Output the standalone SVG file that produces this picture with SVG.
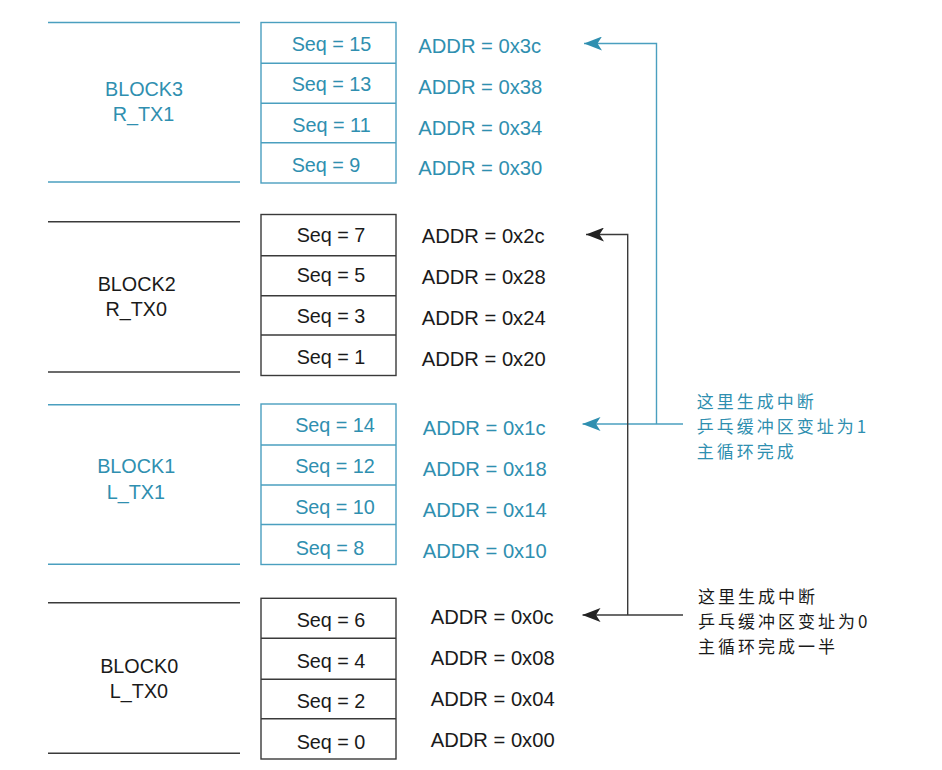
<svg xmlns="http://www.w3.org/2000/svg" width="942" height="770" viewBox="0 0 942 770">
<defs>
<style>
.t{font-family:"Liberation Sans",Arial,sans-serif;font-size:19.8px}
.a{font-size:20.2px}
.c{font-family:"Noto Sans CJK SC","Noto Sans",sans-serif;font-size:17px;letter-spacing:3px}
.teal{fill:#2f8fb0}
.blk{fill:#1a1a1a}
.m{text-anchor:middle}
.lt{stroke:#4a9fbf;stroke-width:1.4;fill:none}
.lb{stroke:#3a3a3a;stroke-width:1.4;fill:none}
</style>
<marker id="at" viewBox="0 0 18 14" refX="18" refY="7" markerWidth="18" markerHeight="14" markerUnits="userSpaceOnUse" orient="auto">
<path d="M0,0 L18,7 L0,14 L4.5,7 Z" fill="#2f8fb0"/>
</marker>
<marker id="ab" viewBox="0 0 18 14" refX="18" refY="7" markerWidth="18" markerHeight="14" markerUnits="userSpaceOnUse" orient="auto">
<path d="M0,0 L18,7 L0,14 L4.5,7 Z" fill="#222"/>
</marker>
</defs>
<rect width="942" height="770" fill="#fff"/>

<g id="block3">
<line class="lt" x1="48" y1="22.5" x2="240" y2="22.5"/>
<line class="lt" x1="48" y1="182" x2="240" y2="182"/>
<text class="t teal m" x="144" y="96">BLOCK3</text>
<text class="t teal m" x="143.5" y="121">R_TX1</text>
<rect class="lt" x="261" y="22.5" width="135" height="160.5"/>
<line class="lt" x1="261" y1="63.3" x2="396" y2="63.3"/>
<line class="lt" x1="261" y1="103.3" x2="396" y2="103.3"/>
<line class="lt" x1="261" y1="142.7" x2="396" y2="142.7"/>
<text class="t teal m" x="331.5" y="50.7">Seq = 15</text>
<text class="t teal m" x="331.5" y="91">Seq = 13</text>
<text class="t teal m" x="331.5" y="131.7">Seq = 11</text>
<text class="t teal m" x="326" y="172.3">Seq = 9</text>
<text class="t a teal" x="418.3" y="53.3">ADDR = 0x3c</text>
<text class="t a teal" x="418.3" y="94">ADDR = 0x38</text>
<text class="t a teal" x="418.3" y="134.5">ADDR = 0x34</text>
<text class="t a teal" x="418.3" y="175">ADDR = 0x30</text>
</g>

<g id="block2">
<line class="lb" x1="48" y1="221.7" x2="240" y2="221.7"/>
<line class="lb" x1="48" y1="372" x2="240" y2="372"/>
<text class="t blk m" x="136.7" y="291">BLOCK2</text>
<text class="t blk m" x="136.2" y="315.7">R_TX0</text>
<rect class="lb" x="261" y="214.5" width="135" height="161"/>
<line class="lb" x1="261" y1="255.7" x2="396" y2="255.7"/>
<line class="lb" x1="261" y1="295.7" x2="396" y2="295.7"/>
<line class="lb" x1="261" y1="335" x2="396" y2="335"/>
<text class="t blk m" x="331" y="242.3">Seq = 7</text>
<text class="t blk m" x="331" y="282.3">Seq = 5</text>
<text class="t blk m" x="331" y="323.3">Seq = 3</text>
<text class="t blk m" x="331" y="364.3">Seq = 1</text>
<text class="t a blk" x="421.7" y="242.7">ADDR = 0x2c</text>
<text class="t a blk" x="421.7" y="283.5">ADDR = 0x28</text>
<text class="t a blk" x="421.7" y="324.5">ADDR = 0x24</text>
<text class="t a blk" x="421.7" y="365.5">ADDR = 0x20</text>
</g>

<g id="block1">
<line class="lt" x1="48" y1="404.7" x2="240" y2="404.7"/>
<line class="lt" x1="48" y1="564.3" x2="240" y2="564.3"/>
<text class="t teal m" x="136.2" y="473.3">BLOCK1</text>
<text class="t teal m" x="135.8" y="499.3">L_TX1</text>
<rect class="lt" x="261" y="404" width="135" height="160.5"/>
<line class="lt" x1="261" y1="445" x2="396" y2="445"/>
<line class="lt" x1="261" y1="485" x2="396" y2="485"/>
<line class="lt" x1="261" y1="524.5" x2="396" y2="524.5"/>
<text class="t teal m" x="335" y="432">Seq = 14</text>
<text class="t teal m" x="335" y="473">Seq = 12</text>
<text class="t teal m" x="335" y="514">Seq = 10</text>
<text class="t teal m" x="330" y="555">Seq = 8</text>
<text class="t a teal" x="422.7" y="435">ADDR = 0x1c</text>
<text class="t a teal" x="422.7" y="476">ADDR = 0x18</text>
<text class="t a teal" x="422.7" y="516.7">ADDR = 0x14</text>
<text class="t a teal" x="422.7" y="557.7">ADDR = 0x10</text>
</g>

<g id="block0">
<line class="lb" x1="48" y1="602.7" x2="240" y2="602.7"/>
<line class="lb" x1="48" y1="753.3" x2="240" y2="753.3"/>
<text class="t blk m" x="139.2" y="672.7">BLOCK0</text>
<text class="t blk m" x="139" y="697.7">L_TX0</text>
<rect class="lb" x="261" y="598.3" width="135" height="160.7"/>
<line class="lb" x1="261" y1="638.3" x2="396" y2="638.3"/>
<line class="lb" x1="261" y1="679.3" x2="396" y2="679.3"/>
<line class="lb" x1="261" y1="718.7" x2="396" y2="718.7"/>
<text class="t blk m" x="331" y="626.7">Seq = 6</text>
<text class="t blk m" x="331" y="667.7">Seq = 4</text>
<text class="t blk m" x="331" y="708.3">Seq = 2</text>
<text class="t blk m" x="331" y="749">Seq = 0</text>
<text class="t a blk" x="430.7" y="624">ADDR = 0x0c</text>
<text class="t a blk" x="430.7" y="665">ADDR = 0x08</text>
<text class="t a blk" x="430.7" y="706">ADDR = 0x04</text>
<text class="t a blk" x="430.7" y="746.7">ADDR = 0x00</text>
</g>

<g id="connectors">
<path class="lt" d="M683,424 L582.5,424" marker-end="url(#at)"/>
<path class="lt" d="M656.5,424 L656.5,43.5 L584,43.5" marker-end="url(#at)"/>
<path class="lb" d="M683,615 L582.5,615" marker-end="url(#ab)"/>
<path class="lb" d="M627.7,615 L627.7,234.5 L586,234.5" marker-end="url(#ab)"/>
</g>

<g id="note1">
<text class="c teal" x="696.7" y="408.3">这里生成中断</text>
<text class="c teal" x="696.7" y="433.3">乒乓缓冲区变址为1</text>
<text class="c teal" x="696.7" y="458">主循环完成</text>
</g>

<g id="note0">
<text class="c blk" x="698" y="603">这里生成中断</text>
<text class="c blk" x="698" y="628.3">乒乓缓冲区变址为0</text>
<text class="c blk" x="698" y="653">主循环完成一半</text>
</g>
</svg>
